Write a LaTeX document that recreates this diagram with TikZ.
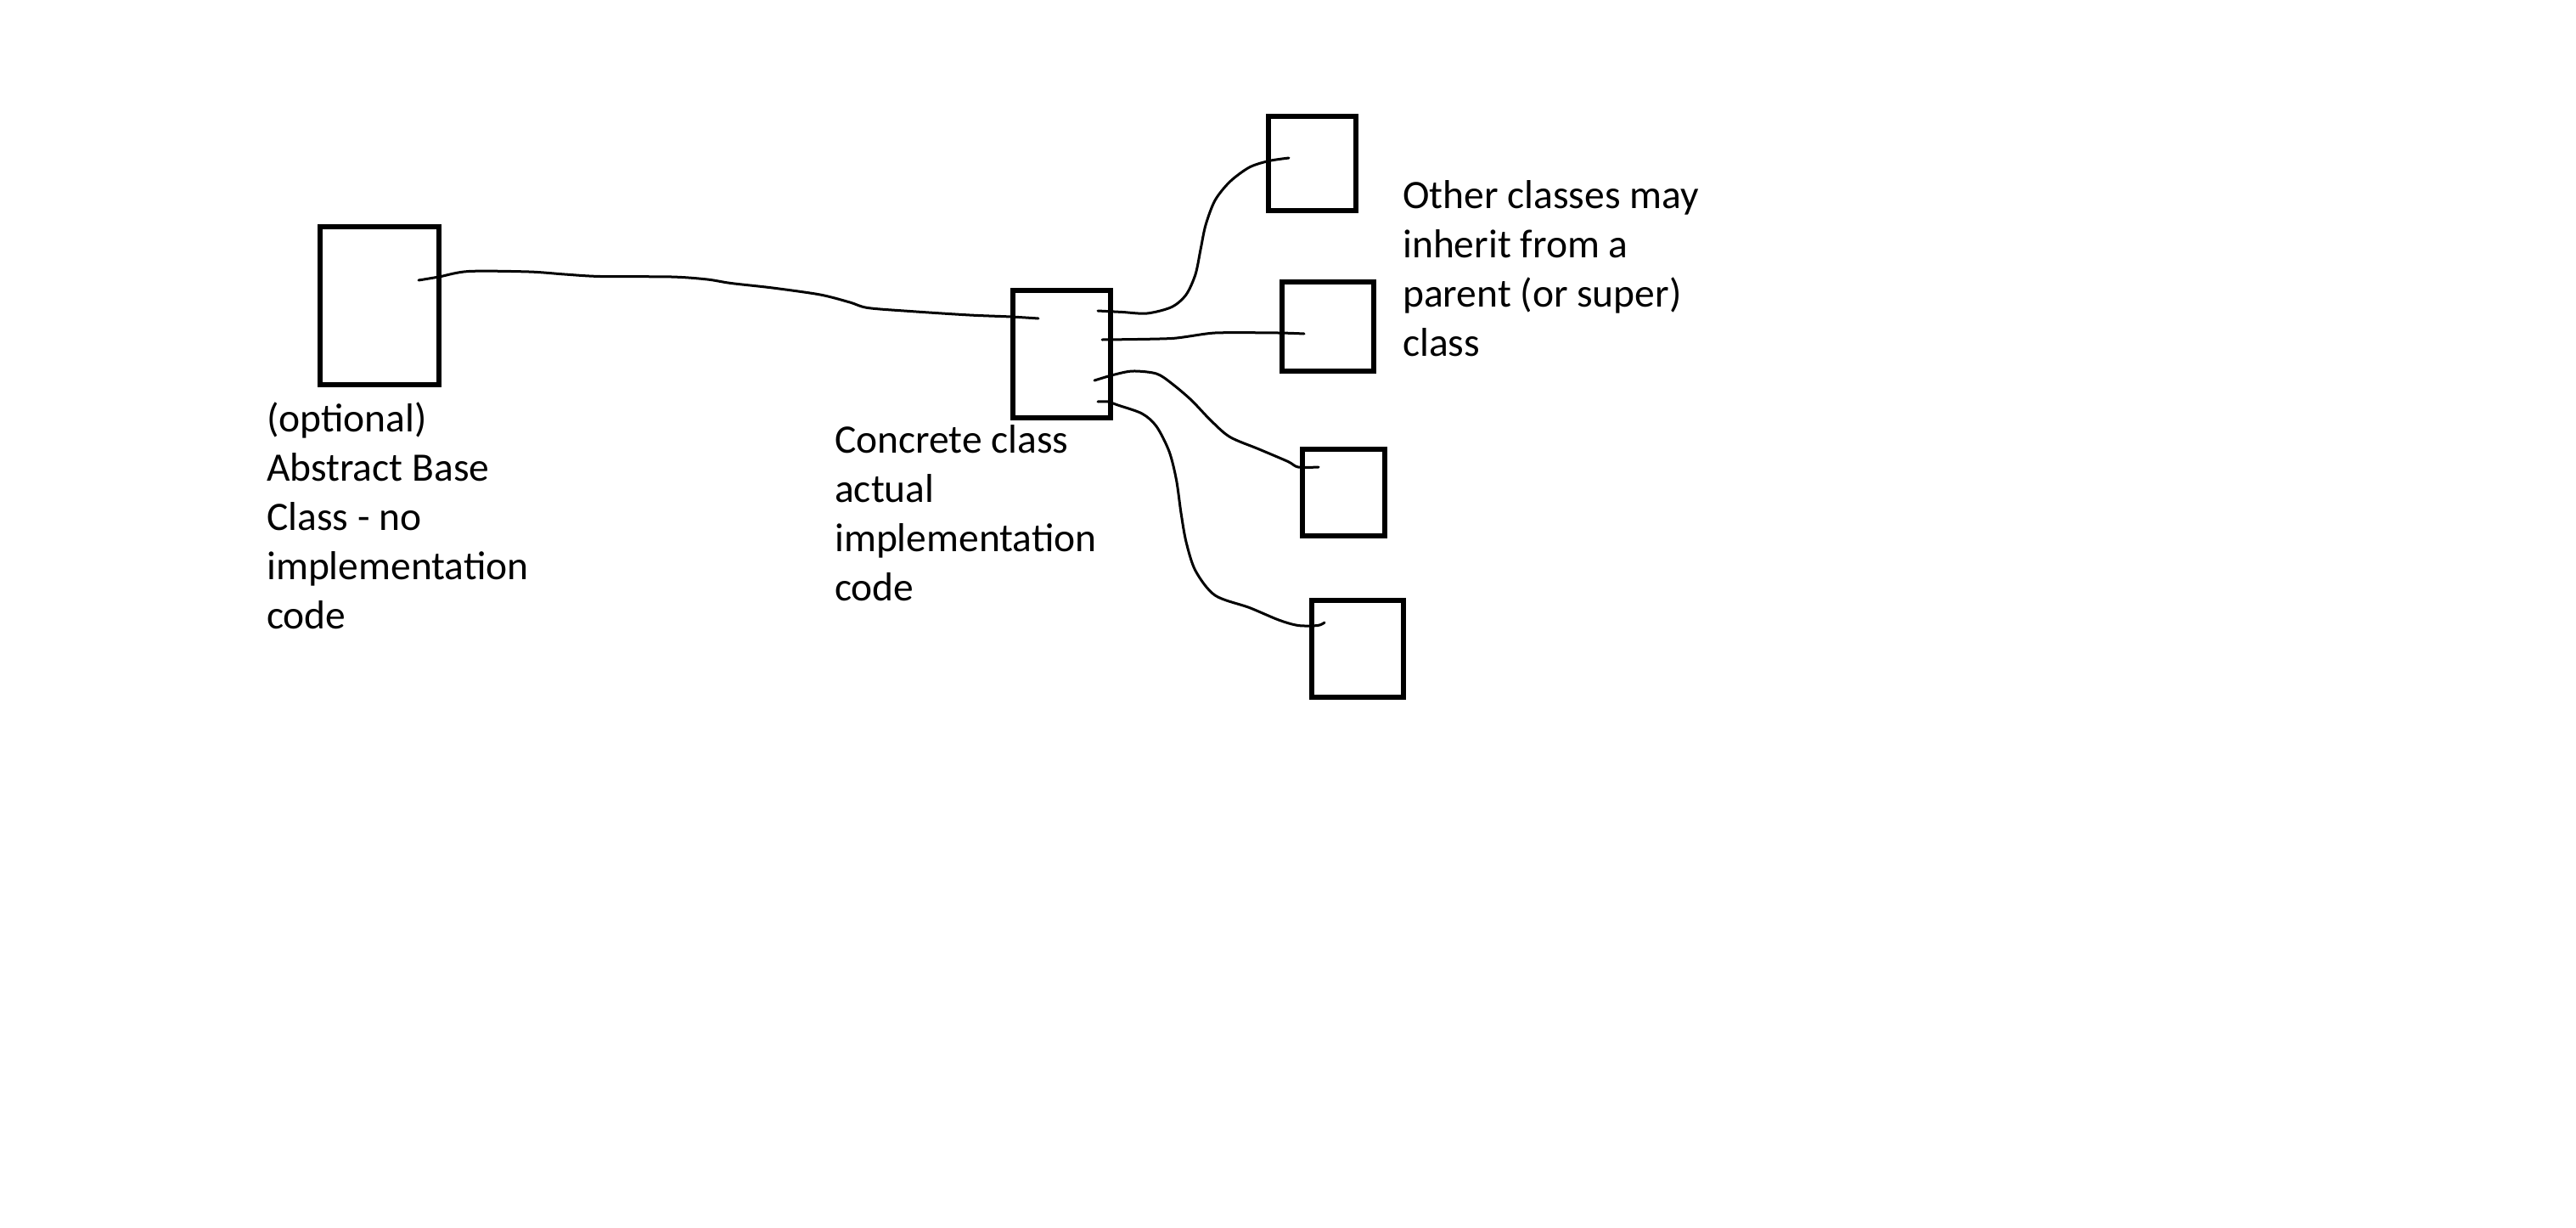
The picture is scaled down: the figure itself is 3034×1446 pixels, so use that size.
\documentclass[tikz,border=0pt]{standalone}
\usepackage{fontspec}
\setmainfont{Carlito}
\begin{document}
\begin{tikzpicture}[x=1pt,y=-1pt,
  cls/.style={draw=black,line width=6pt,fill=none,inner sep=0pt,minimum width=#1},
  lbl/.style={anchor=base west,inner sep=0pt,font=\fontsize{47.5}{58}\selectfont},
  wire/.style={draw=black,line width=3pt,line cap=round,line join=round}]
\useasboundingbox[fill=white] (0,0) rectangle (3034,1446);
% boxes
\node[cls=140pt,minimum height=186pt] (b0) at (446.5,359.5) {};
\node[cls=115pt,minimum height=150pt] (b1) at (1250,416.5) {};
\node[cls=103pt,minimum height=111pt] (r1) at (1545,192) {};
\node[cls=108pt,minimum height=105pt] (r2) at (1563.5,384) {};
\node[cls=97pt,minimum height=102pt] (r3) at (1582,579.5) {};
\node[cls=108pt,minimum height=114pt] (r4) at (1598.5,763.5) {};
% connector end points
\coordinate (a0) at (493,330);
\coordinate (a1) at (1223,375);
\coordinate (c1s) at (1293,366);
\coordinate (c1e) at (1518,186);
\coordinate (c2s) at (1298,400);
\coordinate (c2e) at (1536,393);
\coordinate (c3s) at (1289,448);
\coordinate (c3e) at (1553,550);
\coordinate (c4s) at (1293,473);
\coordinate (c4e) at (1560,733);
% connectors
\draw[wire] plot[smooth,tension=0.5] coordinates {(a0) (517,326) (552,319.5) (623,320) (665,323) (707,325.5) (791,326) (833,329) (861,333.5) (910,339) (966,347) (1001,356) (1022,362.5) (1072,366.5) (1142,371) (1191,373) (a1)};
\draw[wire] plot[smooth,tension=0.5] coordinates {(c1s) (1322,367.5) (1351,369) (1380,361.5) (1397,347) (1408,323) (1414,294) (1420,265) (1431,236) (1448.5,214) (1471.5,197) (1494.5,189.5) (c1e)};
\draw[wire] plot[smooth,tension=0.4] coordinates {(c2s) (1380,398.5) (1431,392) (1506,392) (c2e)};
\draw[wire] plot[smooth,tension=0.5] coordinates {(c3s) (1311,441.5) (1334,437) (1362,440) (1380,451.5) (1403,471) (1426,495) (1448.5,514.5) (1483,529) (1517,543.5) (1529,550) (c3e)};
\draw[wire] plot[smooth,tension=0.5] coordinates {(c4s) (1305,473) (1316.5,477) (1345,487) (1362,502) (1377,531.5) (1385.5,565) (1391,604) (1397,638) (1408,672) (1431,701) (1471.5,715.5) (1506,730) (1529,736.5) (1552,736.5) (c4e)};
% labels
\node[lbl] (t0a) at (314,508) {(optional)};
\node[lbl] (t0b) at (314,566) {Abstract Base};
\node[lbl] (t0c) at (314,624) {Class - no};
\node[lbl] (t0d) at (314,682) {implementation};
\node[lbl] (t0e) at (314,740) {code};
\node[lbl] (t1a) at (983,533) {Concrete class};
\node[lbl] (t1b) at (983,591) {actual};
\node[lbl] (t1c) at (983,649) {implementation};
\node[lbl] (t1d) at (983,707) {code};
\node[lbl] (t2a) at (1652,245) {Other classes may};
\node[lbl] (t2b) at (1652,303) {inherit from a};
\node[lbl] (t2c) at (1652,361) {parent (or super)};
\node[lbl] (t2d) at (1652,419) {class};
\end{tikzpicture}
\end{document}
